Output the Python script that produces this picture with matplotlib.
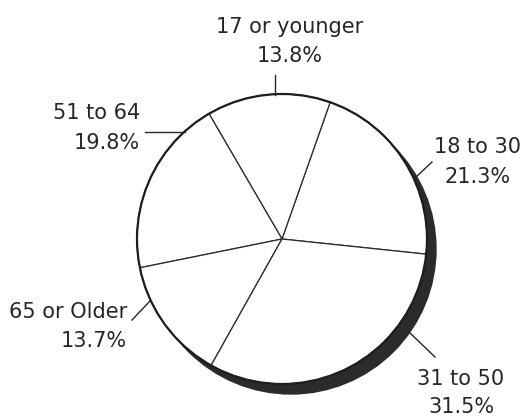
import matplotlib.pyplot as plt
from matplotlib.patches import Circle

# age distribution
age_groups = ["18 to 30", "17 or younger", "51 to 64", "65 or Older", "31 to 50"]
shares = [21.3, 13.8, 19.8, 13.7, 31.5]
pct_labels = ["21.3%", "13.8%", "19.8%", "13.7%", "31.5%"]

W, H = 523, 416

# label layout in pixel units (x, baseline of first line, baseline of second line, alignment)
label_pos = [
    (478, 153, 183, "center"),
    (290, 33, 62, "center"),
    (140, 119, 149, "right"),
    (127, 318, 347, "right"),
    (461, 385, 413, "center"),
]
# leader lines (start on rim, end near label)
leaders = [
    ((415, 178), (432, 162)),
    ((275, 95), (275, 75)),
    ((185, 132), (145, 132)),
    ((150, 301), (132, 320)),
    ((410, 333), (435, 357)),
]

fig = plt.figure(figsize=(5.23, 4.16), dpi=100)
ax = fig.add_axes([0, 0, 1, 1])

cx, cy, r = 282, H - 239, 145
ink = "#262626"

# drop shadow behind the pie
ax.add_patch(Circle((cx + 9, cy - 10), r, color="#2b2b2b", zorder=0))

ax.pie(shares, startangle=-6, center=(cx, cy), radius=r,
       colors=["white"] * len(shares),
       wedgeprops=dict(edgecolor="#2a2a2a", linewidth=0.9))
ax.add_patch(Circle((cx, cy), r, fill=False, edgecolor="#1e1e1e", lw=1.6, zorder=3))

for name, pct, (x, y1, y2, ha) in zip(age_groups, pct_labels, label_pos):
    ax.text(x, H - y1, name, ha=ha, va="baseline", fontsize=15,
            family="DejaVu Sans", color=ink)
    ax.text(x, H - y2, pct, ha=ha, va="baseline", fontsize=15,
            family="DejaVu Sans", color=ink)

for (x0, y0), (x1, y1) in leaders:
    ax.plot([x0, x1], [H - y0, H - y1], color=ink, lw=1.0, zorder=4)

ax.set_xlim(0, W)
ax.set_ylim(0, H)
ax.axis("off")

fig.savefig("out.png", dpi=100, facecolor="white")
